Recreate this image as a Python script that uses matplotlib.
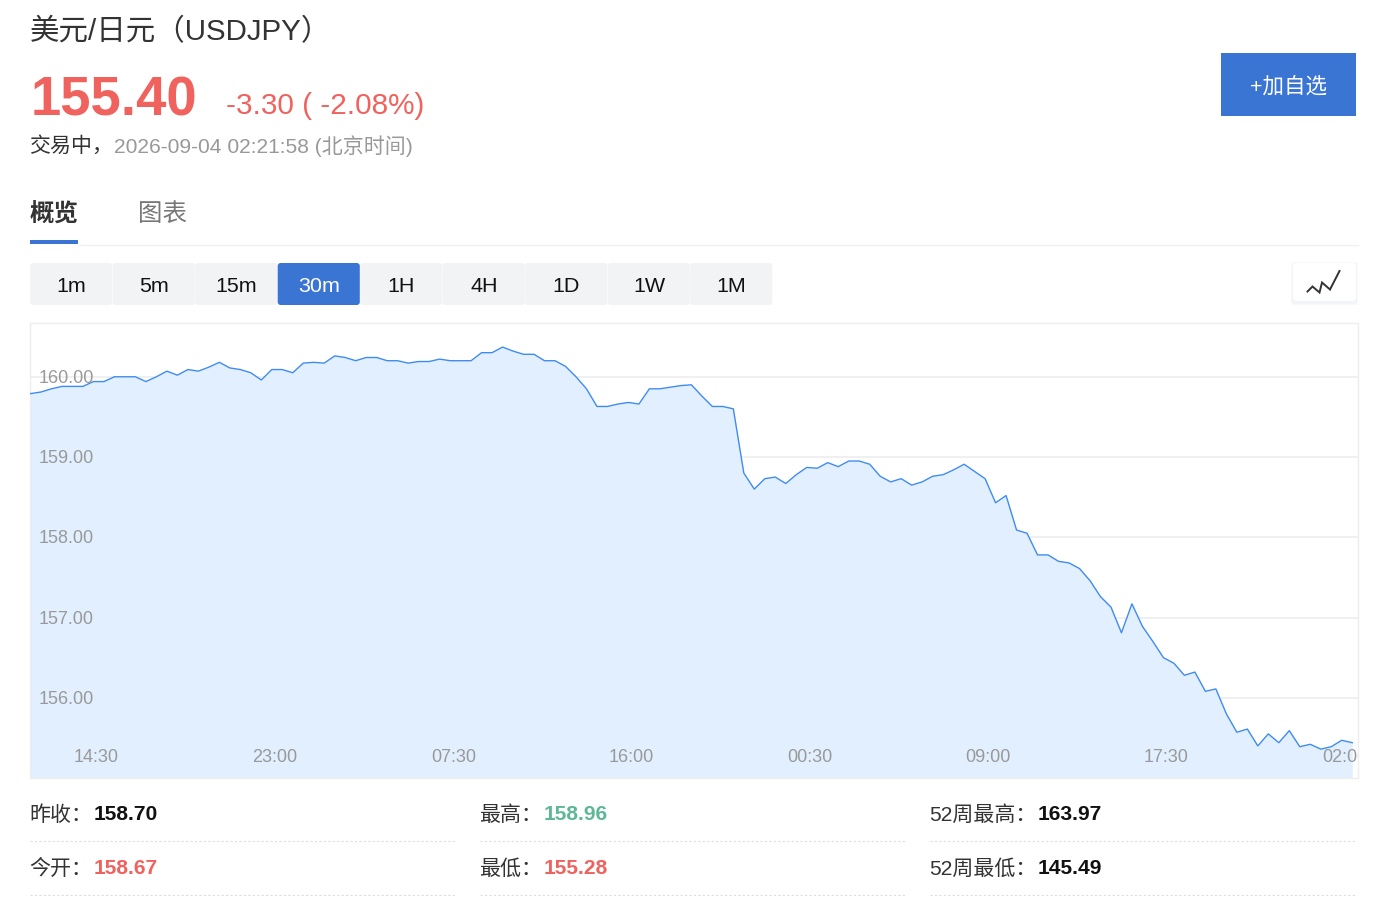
import matplotlib

matplotlib.use("Agg")
import matplotlib.pyplot as plt
from matplotlib.patches import FancyBboxPatch, Rectangle

plt.rcParams["font.family"] = ["Liberation Sans", "Noto Sans CJK SC", "DejaVu Sans"]

W, H = 1382, 906
RED = "#f0625d"
GREEN = "#5eb896"
BLUE = "#3a75d4"

# 30-minute closes
prices = [
    159.79, 159.81, 159.85, 159.88, 159.88, 159.88, 159.94, 159.94, 160.00, 160.00,
    160.00, 159.94, 160.00, 160.07, 160.02, 160.09, 160.07, 160.12, 160.18, 160.11,
    160.09, 160.05, 159.96, 160.09, 160.09, 160.05, 160.17, 160.18, 160.17, 160.26,
    160.24, 160.20, 160.24, 160.24, 160.20, 160.20, 160.17, 160.19, 160.19, 160.22,
    160.20, 160.20, 160.20, 160.30, 160.30, 160.37, 160.32, 160.28, 160.28, 160.20,
    160.20, 160.13, 160.00, 159.85, 159.63, 159.63, 159.66, 159.68, 159.66, 159.85,
    159.85, 159.87, 159.89, 159.90, 159.76, 159.63, 159.63, 159.60, 158.80, 158.60,
    158.73, 158.75, 158.67, 158.78, 158.87, 158.86, 158.93, 158.88, 158.95, 158.95,
    158.91, 158.76, 158.69, 158.73, 158.65, 158.69, 158.76, 158.78, 158.84, 158.91,
    158.82, 158.73, 158.43, 158.52, 158.09, 158.05, 157.78, 157.78, 157.70, 157.68,
    157.61, 157.46, 157.26, 157.13, 156.81, 157.17, 156.89, 156.70, 156.50, 156.43,
    156.28, 156.32, 156.08, 156.11, 155.80, 155.57, 155.61, 155.40, 155.55, 155.44,
    155.59, 155.39, 155.42, 155.36, 155.39, 155.47, 155.44,
]
y_ticks = [160, 159, 158, 157, 156]
time_labels = ["14:30", "23:00", "07:30", "16:00", "00:30", "09:00", "17:30", "02:00"]
time_index = [6.3, 23.3, 40.3, 57.3, 74.3, 91.3, 108.3, 125.3]

periods = ["1m", "5m", "15m", "30m", "1H", "4H", "1D", "1W", "1M"]
active_period = "30m"

stat_labels = ["昨收：", "最高：", "52周最高：", "今开：", "最低：", "52周最低："]
stat_values = ["158.70", "158.96", "163.97", "158.67", "155.28", "145.49"]
stat_colors = ["#111111", GREEN, "#111111", RED, RED, "#111111"]


def px(size):
    # css pixels -> points at dpi 100
    return size * 0.72


fig = plt.figure(figsize=(W / 100, H / 100), dpi=100, facecolor="white")

# page furniture is laid out in pixel coordinates
bg = fig.add_axes([0, 0, 1, 1])
bg.set_xlim(0, W)
bg.set_ylim(H, 0)
bg.axis("off")


def label(x, y, s, size, color="#333333", ha="left", weight="normal", ax=bg):
    return ax.text(x, y, s, fontsize=px(size), color=color, ha=ha, va="center",
                   fontweight=weight)


label(30, 32, "美元/日元（USDJPY）", 29.5)
label(31, 102, "155.40", 54.5, RED, weight="bold")
label(226, 106, "-3.30 ( -2.08%)", 29.8, RED)
label(29.5, 146, "交易中，", 21, "#333333")
label(114, 146, "2026-09-04 02:21:58 (北京时间)", 21, "#999999")

bg.add_patch(Rectangle((1221, 53), 135, 63, color=BLUE, lw=0))
label(1288.5, 87, "+加自选", 21.5, "white", ha="center")

label(30, 215, "概览", 24.5, "#333333", weight="bold")
label(138, 215, "图表", 24.5, "#777777")
bg.add_patch(Rectangle((30, 240), 48, 4, color=BLUE, lw=0))
bg.plot([78, 1358], [244.5, 244.5], color="#f2f2f2", lw=1)

# period selector
for i, name in enumerate(periods):
    x0 = 30 + i * 82.5
    on = name == active_period
    bg.add_patch(FancyBboxPatch((x0 + 0.2, 263), 82.1, 42,
                                boxstyle="round,pad=0,rounding_size=3",
                                lw=0, fc=BLUE if on else "#f2f3f5"))
    label(x0 + 41.5, 286, name, 21.5, "white" if on else "#111111", ha="center")

# chart-type button
for grow, col in [(2, "#f8f9fc"), (1, "#f2f4f9")]:
    bg.add_patch(FancyBboxPatch((1293 - grow, 263 - grow + 1), 63 + 2 * grow, 39 + 2 * grow,
                                boxstyle="round,pad=0,rounding_size=3", lw=0, fc=col))
bg.add_patch(FancyBboxPatch((1293, 263), 63, 38, boxstyle="round,pad=0,rounding_size=3",
                            lw=0, fc="white"))
bg.plot([1307.5, 1312.5, 1319.5, 1322, 1330, 1339.5], [291.5, 286.5, 292.5, 282.5, 289.5, 271],
        color="#333333", lw=1.4, solid_joinstyle="miter")

# price chart
L, T, R, B = 30, 323, 1358, 778
ax = fig.add_axes([L / W, 1 - B / H, (R - L) / W, (B - T) / H])
ax.patch.set_alpha(0)
ax.set_xlim(-0.05, 126.55)
ax.set_ylim(155.0, 160.67)
xs = list(range(len(prices)))
for v in y_ticks:
    ax.axhline(v, color="#eeeeee", lw=1.2, zorder=1)
ax.fill_between(xs, prices, 155.0, color="#e1effe", lw=0, zorder=2)
ax.plot(xs, prices, color="#3f8cf0", lw=1.0, zorder=3, solid_joinstyle="round")
ax.set_xticks([])
ax.set_yticks([])
for s in ax.spines.values():
    s.set_color("#eeeeee")
    s.set_linewidth(1)
for v in y_ticks:
    ax.annotate(f"{v:.2f}", (0, v), xytext=(8.5 * 0.72, -1.5 * 0.72), textcoords="offset points",
                fontsize=px(18), color="#999999", va="center", ha="left", zorder=4)
for i, t in zip(time_index, time_labels):
    ax.text(i, 155.26, t, fontsize=px(18), color="#999999", ha="center", va="center",
            zorder=4, clip_on=True)

# stats table
col_x = [30, 480, 930]
val_x = [94, 544, 1038]
for n, (name, val, col) in enumerate(zip(stat_labels, stat_values, stat_colors)):
    row, c = divmod(n, 3)
    y = 813 + row * 54
    label(col_x[c] - 0.5, y + 2, name, 21, "#333333")
    label(val_x[c], y + 1.5, val, 21, col, weight="bold")
    bg.plot([col_x[c], col_x[c] + 426], [y + 28, y + 28], color="#dddddd", lw=0.8,
            dashes=(2, 2))

fig.savefig("out.png", dpi=100)
